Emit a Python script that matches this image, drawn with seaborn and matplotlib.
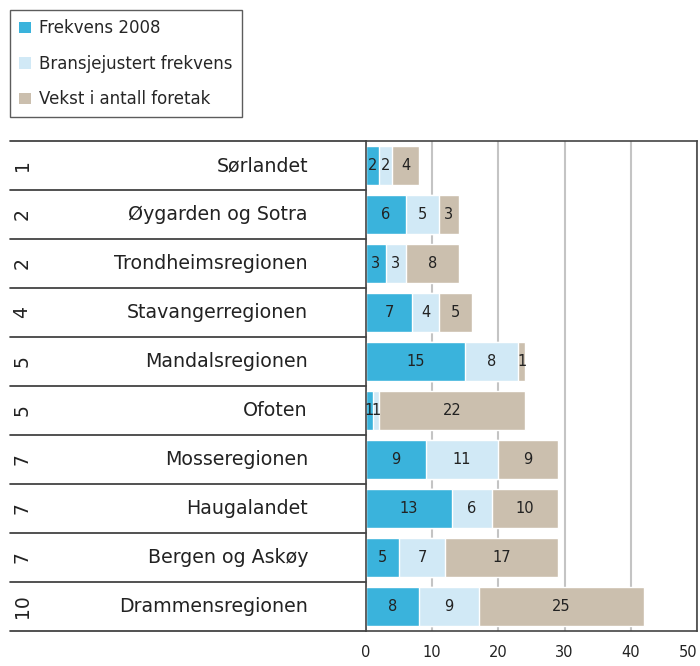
import matplotlib
matplotlib.use('Agg')
import matplotlib.pyplot as plt
import matplotlib.transforms as mtransforms
from matplotlib.patches import Patch
import numpy as np
import pandas as pd
import seaborn as sns

# data
regions = ['Sørlandet', 'Øygarden og Sotra', 'Trondheimsregionen', 'Stavangerregionen',
           'Mandalsregionen', 'Ofoten', 'Mosseregionen', 'Haugalandet',
           'Bergen og Askøy', 'Drammensregionen']
ranks = ['1', '2', '2', '4', '5', '5', '7', '7', '7', '10']
frekvens = [2, 6, 3, 7, 15, 1, 9, 13, 5, 8]
bransje = [2, 5, 3, 4, 8, 1, 11, 6, 7, 9]
vekst = [4, 3, 8, 5, 1, 22, 9, 10, 17, 25]
series_names = ['Frekvens 2008', 'Bransjejustert frekvens', 'Vekst i antall foretak']
colors = ['#3AB3DC', '#D1E9F6', '#CBBFAE']

sns.set_style('white')
plt.rcParams['font.family'] = ['DejaVu Sans']

df = pd.DataFrame({'region': regions, 'f': frekvens, 'b': bransje, 'v': vekst})
df['c1'] = df['f']
df['c2'] = df['f'] + df['b']
df['c3'] = df['c2'] + df['v']

fig = plt.figure(figsize=(7, 6.66), dpi=100)
ax = fig.add_axes([366/700, 1 - 631/666, (697-366)/700, (631-141)/666])

# stacked bars by layering cumulative totals
for col, c in zip(['c3', 'c2', 'c1'], colors[::-1]):
    sns.barplot(data=df, x=col, y='region', color=c, saturation=1, width=0.78,
                orient='h', ax=ax, zorder=2)

# segment labels
for i in range(len(regions)):
    starts = [0, df['c1'][i], df['c2'][i]]
    for s, w in zip(starts, [frekvens[i], bransje[i], vekst[i]]):
        ax.text(s + w / 2, i, str(w), ha='center', va='center', fontsize=10.5,
                color='#222222', zorder=3)

ax.set_xlim(0, 50)
ax.set_ylim(len(regions) - 0.5, -0.5)
ax.set_xticks(range(0, 51, 10))
ax.set_yticks([])
ax.set_xlabel('')
ax.set_ylabel('')
ax.tick_params(axis='x', length=0, pad=10, labelsize=10.5, colors='#222222')
ax.get_xticklabels()[-1].set_ha('right')
ax.grid(axis='x', color='#c4c4c4', lw=1.5)
ax.set_axisbelow(True)
for side in ['left', 'right', 'top', 'bottom']:
    ax.spines[side].set_visible(True)
    ax.spines[side].set_color('#444444')
    ax.spines[side].set_linewidth(1.2)

# left-hand table: rank, region name and row separators
trans = mtransforms.blended_transform_factory(fig.transFigure, ax.transData)
for i in range(len(regions)):
    ax.text(22/700, i, ranks[i], rotation=90, ha='center', va='center',
            fontsize=13.5, color='#222222', transform=trans)
    ax.text(308/700, i, regions[i], ha='right', va='center',
            fontsize=13.7, color='#222222', transform=trans)
for yb in np.arange(-0.5, len(regions), 1.0):
    ax.plot([10/700, 366/700], [yb, yb], color='#333333', lw=1.2,
            transform=trans, clip_on=False)

handles = [Patch(facecolor=c, edgecolor='none') for c in colors]
leg = fig.legend(handles, series_names, loc='upper left',
                 bbox_to_anchor=(10/700, 1 - 10/666), frameon=True, fancybox=False,
                 edgecolor='#333333', fontsize=12, handlelength=0.7, handleheight=0.7,
                 handletextpad=0.5, labelspacing=1.05, borderpad=0.55, borderaxespad=0)
leg.get_frame().set_linewidth(1.0)

fig.savefig('out.png', dpi=100)
